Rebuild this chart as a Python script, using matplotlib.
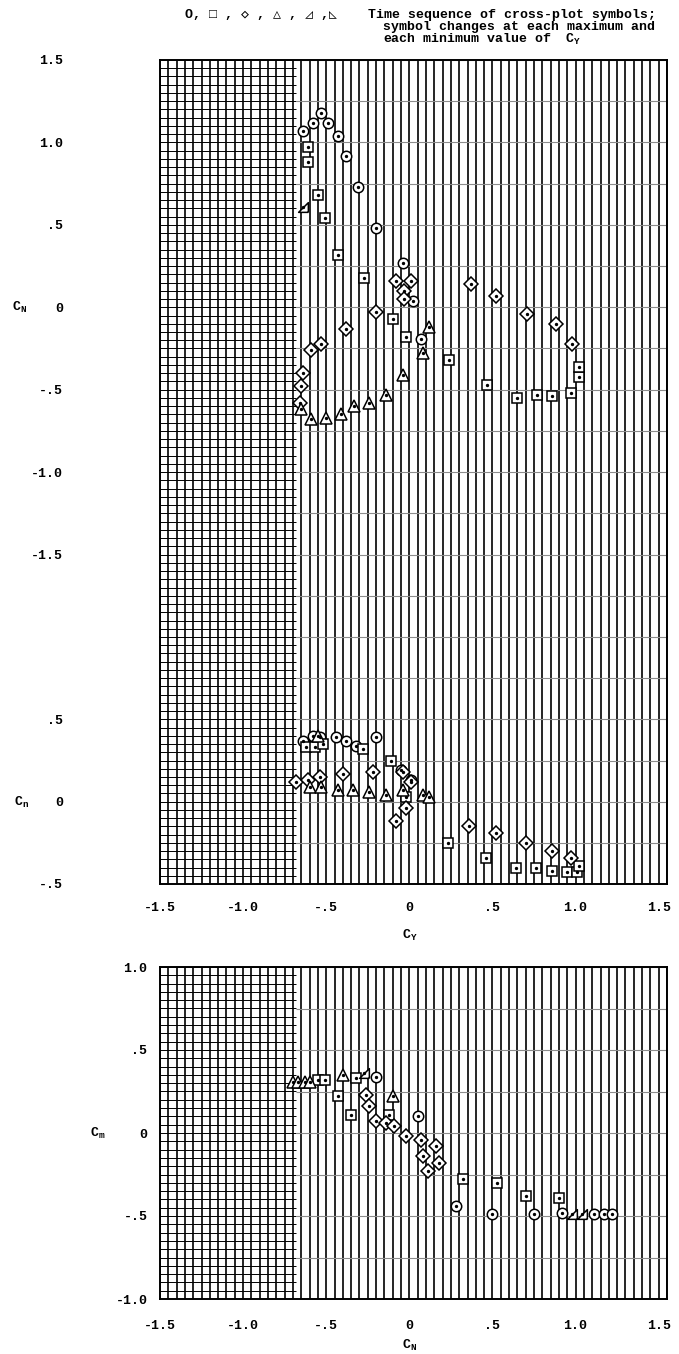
import matplotlib
matplotlib.use("Agg")
import matplotlib.pyplot as plt
import numpy as np

# ---- C_N vs C_Y (upper sheet) ----
cn_circ_cy = [-0.64, -0.58, -0.53, -0.49, -0.43, -0.38, -0.31, -0.20, -0.04, 0.02, 0.07]
cn_circ = [1.07, 1.12, 1.18, 1.12, 1.04, 0.92, 0.73, 0.48, 0.27, 0.04, -0.19]
cn_sq_cy = [-0.61, -0.61, -0.55, -0.51, -0.43, -0.27, -0.10, -0.02, 0.24, 0.47,
            0.65, 0.77, 0.86, 0.97, 1.02, 1.02]
cn_sq = [0.97, 0.88, 0.68, 0.54, 0.32, 0.18, -0.07, -0.18, -0.32, -0.47,
         -0.55, -0.53, -0.54, -0.52, -0.42, -0.36]
cn_dia_cy = [-0.66, -0.65, -0.64, -0.59, -0.53, -0.38, -0.20, -0.08, 0.01, -0.03,
             -0.03, 0.37, 0.52, 0.71, 0.88, 0.98]
cn_dia = [-0.58, -0.48, -0.40, -0.26, -0.22, -0.13, -0.03, 0.16, 0.16, 0.10,
          0.05, 0.14, 0.07, -0.04, -0.10, -0.22]
cn_tri_cy = [0.12, 0.08, -0.04, -0.14, -0.24, -0.33, -0.41, -0.50, -0.59, -0.65]
cn_tri = [-0.12, -0.28, -0.41, -0.53, -0.58, -0.60, -0.65, -0.67, -0.68, -0.62]
cn_rt_cy = [-0.64]
cn_rt = [0.61]

# ---- C_n vs C_Y ----
yn_circ_cy = [-0.64, -0.58, -0.54, -0.44, -0.38, -0.32, -0.20, -0.05, 0.01]
yn_circ = [0.37, 0.40, 0.39, 0.39, 0.37, 0.34, 0.39, 0.19, 0.13]
yn_sq_cy = [-0.62, -0.57, -0.52, -0.28, -0.11, -0.02, 0.23, 0.46, 0.64, 0.76,
            0.86, 0.95, 1.01, 1.02]
yn_sq = [0.33, 0.33, 0.35, 0.32, 0.25, 0.03, -0.25, -0.34, -0.40, -0.40,
         -0.42, -0.43, -0.43, -0.39]
yn_dia_cy = [-0.68, -0.61, -0.54, -0.40, -0.22, -0.04, 0.01, -0.02, -0.08, 0.36,
             0.52, 0.70, 0.86, 0.97]
yn_dia = [0.12, 0.13, 0.15, 0.17, 0.18, 0.18, 0.12, -0.04, -0.12, -0.15,
          -0.19, -0.25, -0.30, -0.34]
yn_tri_cy = [-0.55, -0.60, -0.53, -0.43, -0.34, -0.24, -0.14, -0.04, 0.08, 0.12]
yn_tri = [0.40, 0.09, 0.09, 0.07, 0.07, 0.06, 0.04, 0.07, 0.04, 0.03]

# ---- C_m vs C_N ----
cm_circ_cn = [-0.20, 0.05, 0.28, 0.50, 0.75, 0.92, 1.11, 1.17, 1.22]
cm_circ = [0.34, 0.10, -0.44, -0.49, -0.49, -0.48, -0.49, -0.49, -0.49]
cm_sq_cn = [-0.55, -0.51, -0.32, -0.43, -0.35, -0.12, 0.32, 0.53, 0.70, 0.90]
cm_sq = [0.32, 0.32, 0.33, 0.22, 0.11, 0.11, -0.28, -0.30, -0.38, -0.39]
cm_dia_cn = [-0.26, -0.24, -0.20, -0.14, -0.09, -0.02, 0.07, 0.16, 0.08, 0.11, 0.18]
cm_dia = [0.23, 0.16, 0.07, 0.06, 0.04, -0.02, -0.04, -0.08, -0.14, -0.23, -0.18]
cm_tri_cn = [-0.70, -0.67, -0.63, -0.60, -0.40, -0.10]
cm_tri = [0.31, 0.31, 0.31, 0.31, 0.35, 0.22]
cm_rt_cn = [-0.27, 0.98, 1.04]
cm_rt = [0.36, -0.49, -0.49]

xticks = [-1.5, -1.0, -0.5, 0, 0.5, 1.0, 1.5]
xtick_labels = ["-1.5", "-1.0", "-.5", "0", ".5", "1.0", "1.5"]
cn_ticks = [1.5, 1.0, 0.5, 0, -0.5, -1.0, -1.5]
cn_tick_labels = ["1.5", "1.0", ".5", "0", "-.5", "-1.0", "-1.5"]
yn_ticks = [0.5, 0, -0.5]
yn_tick_labels = [".5", "0", "-.5"]
cm_ticks = [1.0, 0.5, 0, -0.5, -1.0]
cm_tick_labels = ["1.0", ".5", "0", "-.5", "-1.0"]

MONO = ["Liberation Mono", "DejaVu Sans Mono", "DejaVu Sans"]
FS = 9.5
RTRI = [(1, -1), (1, 1), (-1, -1), (1, -1)]

W, H = 679, 1354
fig = plt.figure(figsize=(W / 100, H / 100), dpi=100)


def box(l, t, r, b):
    return [l / W, 1 - b / H, (r - l) / W, (b - t) / H]


def paper(ax, ylo, yhi, xhi=1.55):
    # graph-paper rulings: fine verticals everywhere, fine horizontals on the left block
    xs = np.arange(-1.5, xhi + 1e-6, 0.05)
    ax.vlines(xs, ylo, yhi, color="black", lw=1.2, zorder=1)
    ys = np.arange(ylo, yhi + 1e-6, 0.05)
    ax.hlines(ys, -1.5, -0.68, color="black", lw=0.7, zorder=1)
    ys2 = np.arange(np.ceil(ylo * 4) / 4, yhi + 1e-6, 0.25)
    ax.hlines(ys2, -0.68, xhi, color="0.55", lw=0.8, zorder=1)
    ax.set_xlim(-1.5, xhi)
    ax.set_ylim(ylo, yhi)
    for s in ax.spines.values():
        s.set_linewidth(1.4)


def pts(ax, x, y, marker, ms):
    ax.plot(x, y, ls="none", marker=marker, ms=ms, mfc="white", mec="black",
            mew=1.1, zorder=3)
    ax.plot(x, y, ls="none", marker="o", ms=1.4, color="black", zorder=4)


ax1 = fig.add_axes(box(160, 60, 667, 637))
ax2 = fig.add_axes(box(160, 637, 667, 884))
ax3 = fig.add_axes(box(160, 967, 667, 1299))

paper(ax1, -2.0, 1.5)
paper(ax2, -0.5, 1.0)
paper(ax3, -1.0, 1.0)
ax1.spines["bottom"].set_visible(False)
ax2.spines["top"].set_visible(False)

for ax, data in [
    (ax1, [(cn_circ_cy, cn_circ, "o"), (cn_sq_cy, cn_sq, "s"),
           (cn_dia_cy, cn_dia, "D"), (cn_tri_cy, cn_tri, "^"),
           (cn_rt_cy, cn_rt, RTRI)]),
    (ax2, [(yn_circ_cy, yn_circ, "o"), (yn_sq_cy, yn_sq, "s"),
           (yn_dia_cy, yn_dia, "D"), (yn_tri_cy, yn_tri, "^")]),
    (ax3, [(cm_circ_cn, cm_circ, "o"), (cm_sq_cn, cm_sq, "s"),
           (cm_dia_cn, cm_dia, "D"), (cm_tri_cn, cm_tri, "^"),
           (cm_rt_cn, cm_rt, RTRI)]),
]:
    sizes = {"o": 7.5, "s": 7, "D": 7, "^": 8}
    for x, y, m in data:
        pts(ax, x, y, m, sizes.get(m, 7) if isinstance(m, str) else 7)

tick_font = dict(family=MONO, size=FS, weight="bold")
ax1.set_xticks([])
ax1.set_yticks(cn_ticks, cn_tick_labels, **tick_font)
ax1.tick_params(axis="y", length=0, pad=70)
ax2.set_yticks(yn_ticks, yn_tick_labels, **tick_font)
ax2.set_xticks(xticks, xtick_labels, **tick_font)
ax2.tick_params(axis="y", length=0, pad=70)
ax2.tick_params(axis="x", length=0, pad=13)
ax3.set_yticks(cm_ticks, cm_tick_labels, **tick_font)
ax3.set_xticks(xticks, xtick_labels, **tick_font)
ax3.tick_params(axis="y", length=0, pad=9)
ax3.tick_params(axis="x", length=0, pad=15)


def ftext(x, y, s, ha="left", size=FS):
    fig.text(x / W, 1 - y / H, s, ha=ha, va="center", family=MONO,
             size=size, weight="bold")


ftext(20, 307, r"$\mathregular{C_N}$", ha="center")
ftext(22, 802, r"$\mathregular{C_n}$", ha="center")
ftext(410, 935, r"$\mathregular{C_Y}$", ha="center")
ftext(98, 1133, r"$\mathregular{C_m}$", ha="center")
ftext(410, 1345, r"$\mathregular{C_N}$", ha="center")

ftext(185, 15, "O, \u25a1 , \u25c7 , \u25b3 , \u25ff ,\u25fa")
ftext(368, 15, "Time sequence of cross-plot symbols;")
ftext(383, 27, "symbol changes at each maximum and")
ftext(383, 39, "each minimum value of  " + r"$\mathregular{C_Y}$")

fig.savefig("out.png", dpi=100)
